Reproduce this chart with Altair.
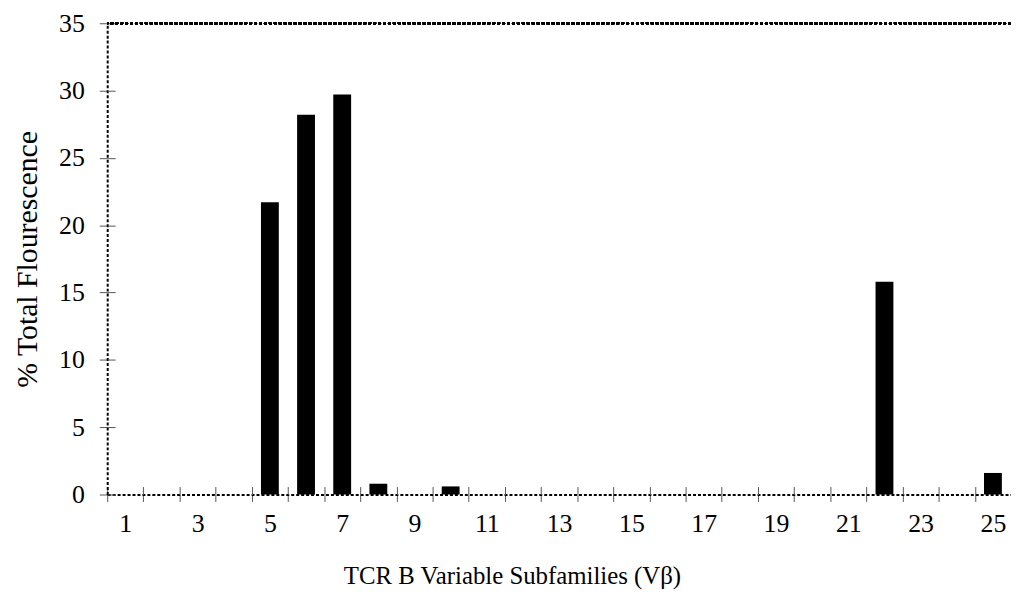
import altair as alt
import pandas as pd

categories = list(range(1, 26))
values = [0, 0, 0, 0, 21.7, 28.2, 29.7, 0.8, 0, 0.6, 0, 0, 0, 0, 0, 0, 0, 0, 0, 0, 0, 15.8, 0, 0, 1.6]
y_ticks = [0, 5, 10, 15, 20, 25, 30, 35]

df = pd.DataFrame({"cat": categories, "val": values})

FONT = "'Liberation Serif', 'Times New Roman', Times, serif"
DASH = [3, 2]

x_main = alt.X(
    "cat:O",
    sort=categories,
    scale=alt.Scale(paddingInner=0, paddingOuter=0),
    axis=alt.Axis(
        orient="bottom",
        title="TCR B Variable Subfamilies (Vβ)",
        titleFont=FONT, titleFontSize=25, titleFontWeight="normal", titleColor="black",
        titleX=408, titleY=70, titleAlign="center",
        labelFont=FONT, labelFontSize=26, labelColor="black", labelAngle=0,
        labelExpr="datum.value % 2 == 1 ? datum.label : ''",
        labelPadding=9,
        tickBand="extent", tickSize=7, tickColor="#555", tickWidth=1,
        domainColor="black", domainWidth=2, domainDash=DASH,
    ),
)
y_main = alt.Y(
    "val:Q",
    scale=alt.Scale(domain=[0, 35], nice=False),
    axis=alt.Axis(
        orient="left",
        values=y_ticks,
        title="% Total Flourescence",
        titleFont=FONT, titleFontSize=30, titleFontWeight="normal", titleColor="black",
        titlePadding=16,
        labelFont=FONT, labelFontSize=26, labelColor="black", labelPadding=15,
        tickSize=8, tickColor="#555", tickWidth=1,
        domainColor="black", domainWidth=2, domainDash=DASH,
        grid=False,
    ),
)

bars = alt.Chart(df).mark_bar(color="black", size=18).encode(x=x_main, y=y_main)

inner = alt.Chart(df).mark_bar(opacity=0).encode(
    x=alt.X("cat:O", sort=categories,
            axis=alt.Axis(orient="bottom", offset=-8, tickSize=8, labels=False, domain=False,
                          title=None, tickBand="extent", tickColor="#555", tickWidth=1)),
    y=alt.Y("val:Q",
            axis=alt.Axis(orient="left", offset=-8, tickSize=8, labels=False, domain=False,
                          title=None, values=y_ticks, tickColor="#555", tickWidth=1, grid=False)),
)

top_line = alt.Chart(df).mark_rule(color="black", strokeWidth=2, strokeDash=DASH).encode(
    y=alt.datum(35, axis=None)
)

chart = (
    alt.layer(bars, inner, top_line)
    .resolve_axis(x="independent", y="independent")
    .properties(
        width=911,
        height=475,
        autosize=alt.AutoSizeParams(type="none"),
        padding={"left": 100, "top": 13, "right": 0, "bottom": 110},
    )
    .configure(font=FONT)
    .configure_view(stroke=None)
)

chart.save("out.html", embed_options={"renderer": "svg", "actions": False})
